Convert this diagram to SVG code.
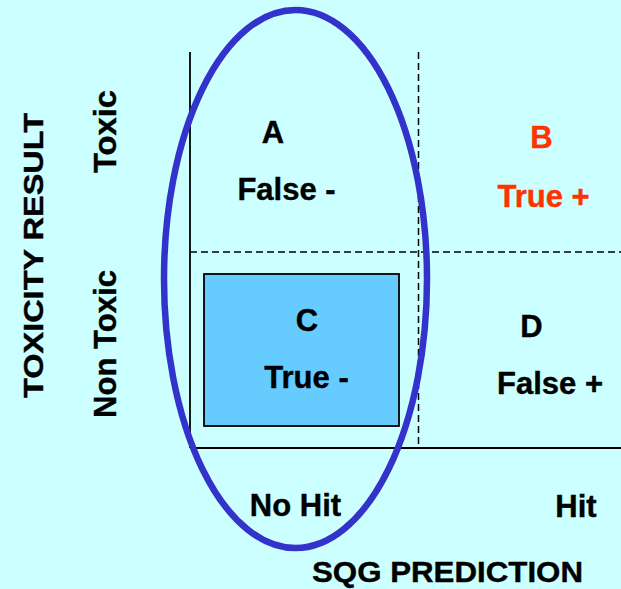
<svg xmlns="http://www.w3.org/2000/svg" width="621" height="589" viewBox="0 0 621 589">
<style>
  .t { font-family: "Liberation Sans", Arial, sans-serif; font-weight: bold; font-size: 31px; fill: #000; stroke: #000; stroke-width: 0.4; text-anchor: middle; }
  .red { fill: #FF3300; stroke: #FF3300; }
  .solid { stroke: #000; stroke-width: 1.8; fill: none; }
  .dash { stroke: #000; stroke-width: 1.5; stroke-dasharray: 7 4; fill: none; }
</style>
<rect x="0" y="0" width="621" height="589" fill="#CCFFFF"/>
<g id="connectors">
  <line class="solid" x1="190" y1="52" x2="190" y2="448"/>
  <line class="solid" x1="190" y1="448" x2="621" y2="448"/>
  <line class="dash" x1="418.5" y1="52" x2="418.5" y2="448"/>
  <line class="dash" x1="190" y1="252" x2="621" y2="252"/>
</g>
<g id="nodeC">
  <rect x="204" y="274" width="195" height="152" fill="#66CCFF" stroke="#000" stroke-width="1.8"/>
  <text class="t" x="307" y="331">C</text>
  <text class="t" x="306.5" y="388">True -</text>
</g>
<g id="nodeA">
  <text class="t" x="273" y="143">A</text>
  <text class="t" x="286.5" y="200">False -</text>
</g>
<g id="nodeB">
  <text class="t red" x="541.5" y="148">B</text>
  <text class="t red" x="543.5" y="207">True +</text>
</g>
<g id="nodeD">
  <text class="t" x="531.5" y="337">D</text>
  <text class="t" x="550" y="394">False +</text>
</g>
<g id="ellipse">
  <ellipse cx="295.5" cy="279" rx="131.5" ry="269" fill="none" stroke="#3333CC" stroke-width="6.5"/>
</g>
<g id="axis-labels">
  <text class="t" x="295.5" y="516">No Hit</text>
  <text class="t" x="576" y="517">Hit</text>
  <text class="t" x="447.5" y="582" textLength="271" lengthAdjust="spacingAndGlyphs" style="font-size:30px">SQG PREDICTION</text>
  <text class="t" transform="translate(43,255.5) rotate(-90)" x="0" y="0" textLength="285" lengthAdjust="spacingAndGlyphs" style="font-size:28px">TOXICITY RESULT</text>
  <text class="t" transform="translate(116,131.5) rotate(-90)" x="0" y="0" textLength="83" lengthAdjust="spacingAndGlyphs">Toxic</text>
  <text class="t" transform="translate(116,344) rotate(-90)" x="0" y="0" textLength="148" lengthAdjust="spacingAndGlyphs">Non Toxic</text>
</g>
</svg>
